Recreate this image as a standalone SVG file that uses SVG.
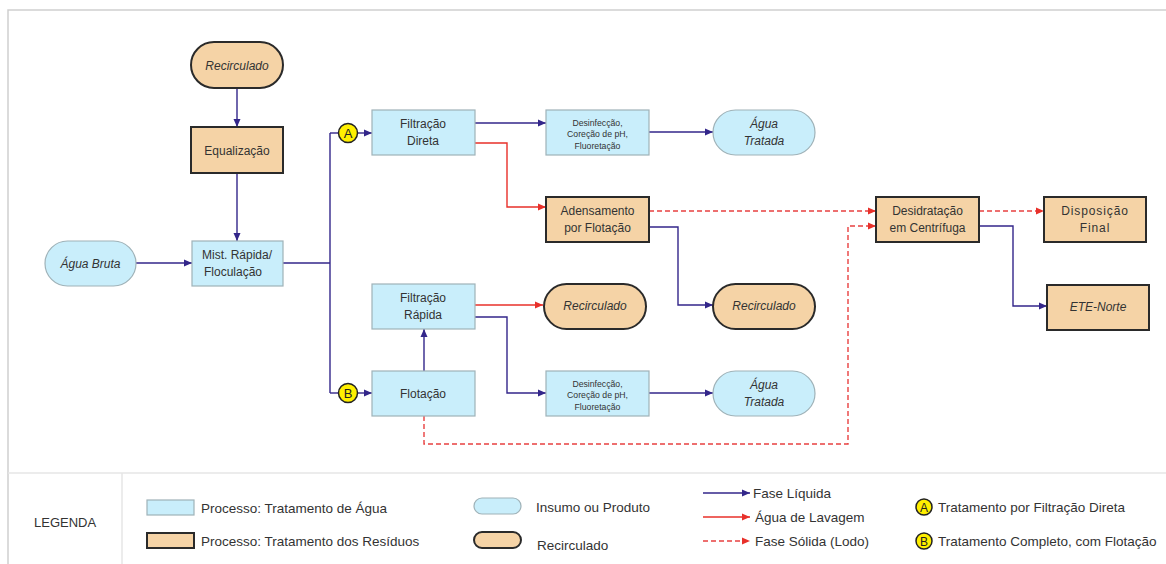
<svg xmlns="http://www.w3.org/2000/svg" width="1166" height="564" viewBox="0 0 1166 564">
<defs>
<style>
text{font-family:"Liberation Sans",Arial,sans-serif;fill:#333;}
.t{font-size:12px;text-anchor:middle;}
.i{font-style:italic;}
.s{font-size:8.7px;text-anchor:middle;}
.lg{font-size:13.5px;}
.pw{fill:#c9eefb;stroke:#9fb2b8;stroke-width:1.2;}
.pr{fill:#f5d3a6;stroke:#2a2a2a;stroke-width:2;}
.liq{fill:none;stroke:#33268a;stroke-width:1.4;}
.red{fill:none;stroke:#e8302a;stroke-width:1.4;}
.sol{fill:none;stroke:#e84040;stroke-width:1.4;stroke-dasharray:5 3;}
.badge{fill:#ffef00;stroke:#222;stroke-width:1.5;}
.frame{fill:none;stroke:#cfcfcf;stroke-width:1.5;}
.lgl{fill:none;stroke:#e6e6e6;stroke-width:1.5;}
</style>
<marker id="aL" viewBox="0 0 8 8" refX="8" refY="4" markerWidth="8" markerHeight="8" markerUnits="userSpaceOnUse" orient="auto"><path d="M0,0.5 L8,4 L0,7.5 Z" fill="#33268a"/></marker>
<marker id="aR" viewBox="0 0 8 8" refX="8" refY="4" markerWidth="8" markerHeight="8" markerUnits="userSpaceOnUse" orient="auto"><path d="M0,0.5 L8,4 L0,7.5 Z" fill="#e8302a"/></marker>
</defs>
<rect width="1166" height="564" fill="#fff"/>
<path class="frame" d="M8,564 V10 H1166"/>
<path class="lgl" d="M8,473 H1166 M122,473 V564"/>

<g id="connectors">
<path class="liq" d="M237,88 V127" marker-end="url(#aL)"/>
<path class="liq" d="M237,173 V241" marker-end="url(#aL)"/>
<path class="liq" d="M136,263 H192" marker-end="url(#aL)"/>
<path class="liq" d="M283,263 H330"/>
<path class="liq" d="M330,133 V393"/>
<path class="liq" d="M330,133 H338"/>
<path class="liq" d="M358,133 H372" marker-end="url(#aL)"/>
<path class="liq" d="M330,393 H338"/>
<path class="liq" d="M358,393 H372" marker-end="url(#aL)"/>
<path class="liq" d="M475,123 H546" marker-end="url(#aL)"/>
<path class="liq" d="M649,132 H713" marker-end="url(#aL)"/>
<path class="red" d="M475,143 H507 V207 H546" marker-end="url(#aR)"/>
<path class="sol" d="M649,211 H876" marker-end="url(#aR)"/>
<path class="liq" d="M649,227 H678 V305 H713" marker-end="url(#aL)"/>
<path class="liq" d="M424,371 V329" marker-end="url(#aL)"/>
<path class="red" d="M475,305 H543" marker-end="url(#aR)"/>
<path class="liq" d="M475,317 H507 V393 H546" marker-end="url(#aL)"/>
<path class="liq" d="M649,393 H713" marker-end="url(#aL)"/>
<path class="sol" d="M424,416 V444 H848 V226 H876" marker-end="url(#aR)"/>
<path class="sol" d="M979,211 H1044" marker-end="url(#aR)"/>
<path class="liq" d="M979,226 H1013 V306 H1047" marker-end="url(#aL)"/>
</g>

<g id="recirculado-top"><rect class="pr" x="191" y="42" width="92" height="46" rx="23"/><text class="t i" x="237" y="69.5">Recirculado</text></g>
<g id="equalizacao"><rect class="pr" x="191" y="127" width="92" height="46"/><text class="t" x="237" y="154.5">Equalização</text></g>
<g id="agua-bruta"><rect class="pw" x="45" y="241" width="91" height="45" rx="22.5"/><text class="t i" x="90.5" y="268">Água Bruta</text></g>
<g id="mist-rapida"><rect class="pw" x="192" y="241" width="91" height="45"/><text class="t" x="237" y="259">Mist. Rápida/</text><text class="t" x="233" y="276">Floculação</text></g>
<g id="badge-a"><circle class="badge" cx="348" cy="133" r="9.5"/><text x="348" y="138" style="font-size:13px;text-anchor:middle;fill:#222">A</text></g>
<g id="badge-b"><circle class="badge" cx="348" cy="393" r="9.5"/><text x="348" y="398" style="font-size:13px;text-anchor:middle;fill:#222">B</text></g>
<g id="filtracao-direta"><rect class="pw" x="372" y="110" width="103" height="45"/><text class="t" x="423" y="128">Filtração</text><text class="t" x="423" y="145">Direta</text></g>
<g id="desinfeccao-1"><rect class="pw" x="546" y="110" width="103" height="45"/><text class="s" x="597.5" y="125.5">Desinfecção,</text><text class="s" x="597.5" y="137.2">Coreção de pH,</text><text class="s" x="597.5" y="148.9">Fluoretação</text></g>
<g id="agua-tratada-1"><rect class="pw" x="713" y="110" width="102" height="45" rx="22.5"/><text class="t i" x="764" y="128">Água</text><text class="t i" x="764" y="145">Tratada</text></g>
<g id="adensamento"><rect class="pr" x="546" y="197" width="103" height="45"/><text class="t" x="597.5" y="215">Adensamento</text><text class="t" x="597.5" y="232">por Flotação</text></g>
<g id="desidratacao"><rect class="pr" x="876" y="197" width="103" height="45"/><text class="t" x="927.5" y="215">Desidratação</text><text class="t" x="927.5" y="232">em Centrífuga</text></g>
<g id="disposicao-final"><rect class="pr" x="1044" y="197" width="102" height="45"/><text class="t" x="1095" y="215" style="letter-spacing:0.9px">Disposição</text><text class="t" x="1095" y="232" style="letter-spacing:0.9px">Final</text></g>
<g id="filtracao-rapida"><rect class="pw" x="372" y="284" width="103" height="45"/><text class="t" x="423" y="302">Filtração</text><text class="t" x="423" y="319">Rápida</text></g>
<g id="recirculado-mid"><rect class="pr" x="544" y="284" width="102" height="45" rx="22.5"/><text class="t i" x="595" y="310">Recirculado</text></g>
<g id="recirculado-right"><rect class="pr" x="713" y="284" width="102" height="45" rx="22.5"/><text class="t i" x="764" y="310">Recirculado</text></g>
<g id="ete-norte"><rect class="pr" x="1047" y="285" width="102" height="45"/><text class="t i" x="1098" y="311">ETE-Norte</text></g>
<g id="flotacao"><rect class="pw" x="372" y="371" width="103" height="45"/><text class="t" x="423" y="398">Flotação</text></g>
<g id="desinfeccao-2"><rect class="pw" x="546" y="371" width="103" height="45"/><text class="s" x="597.5" y="386.5">Desinfecção,</text><text class="s" x="597.5" y="398.2">Coreção de pH,</text><text class="s" x="597.5" y="409.9">Fluoretação</text></g>
<g id="agua-tratada-2"><rect class="pw" x="713" y="371" width="102" height="45" rx="22.5"/><text class="t i" x="764" y="389">Água</text><text class="t i" x="764" y="406">Tratada</text></g>

<g id="legend">
<text x="34" y="527" style="font-size:13px">LEGENDA</text>
<rect class="pw" x="147" y="500" width="47" height="15"/>
<text class="lg" x="201" y="513">Processo: Tratamento de Água</text>
<rect class="pr" x="147" y="533" width="47" height="15"/>
<text class="lg" x="201" y="546">Processo: Tratamento dos Resíduos</text>
<rect class="pw" x="474" y="498" width="47" height="16" rx="8"/>
<text class="lg" x="536" y="512">Insumo ou Produto</text>
<rect class="pr" x="474" y="532" width="47" height="16" rx="8"/>
<text class="lg" x="537" y="550">Recirculado</text>
<path class="liq" d="M703,493 H750" marker-end="url(#aL)"/>
<text class="lg" x="753" y="498">Fase Líquida</text>
<path class="red" d="M703,517 H750" marker-end="url(#aR)"/>
<text class="lg" x="755" y="522">Água de Lavagem</text>
<path class="sol" d="M703,541 H750" marker-end="url(#aR)"/>
<text class="lg" x="755" y="546">Fase Sólida (Lodo)</text>
<circle class="badge" cx="924" cy="507" r="8"/><text x="924" y="511.5" style="font-size:12px;text-anchor:middle;fill:#222">A</text>
<text class="lg" x="938" y="512">Tratamento por Filtração Direta</text>
<circle class="badge" cx="924" cy="541" r="8"/><text x="924" y="545.5" style="font-size:12px;text-anchor:middle;fill:#222">B</text>
<text class="lg" x="938" y="546">Tratamento Completo, com Flotação</text>
</g>
</svg>
